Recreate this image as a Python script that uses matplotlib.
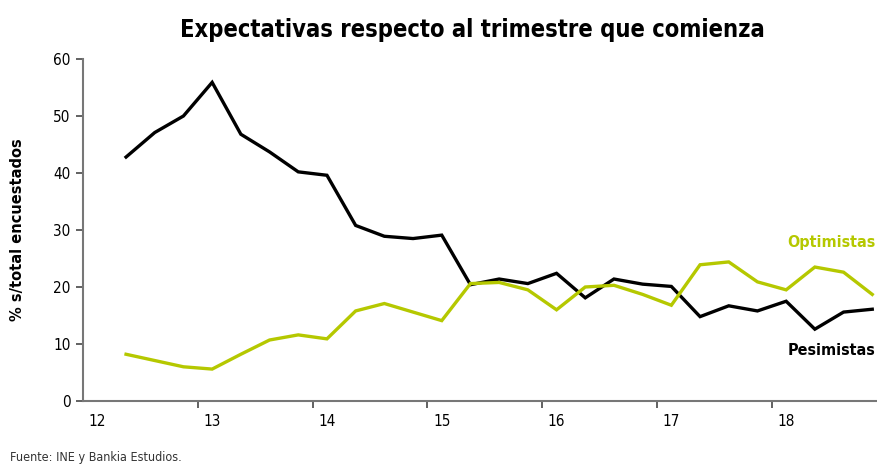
import matplotlib
matplotlib.use("Agg")
import matplotlib.pyplot as plt

# quarterly series, 2012 Q2 .. 2018 Q4 (category index 1..27)
pesimistas = [42.8, 47.1, 50.0, 55.9, 46.8, 43.7, 40.2, 39.6, 30.8, 28.9, 28.5, 29.1,
              20.4, 21.4, 20.6, 22.4, 18.1, 21.4, 20.5, 20.1, 14.8, 16.7, 15.8, 17.5,
              12.6, 15.6, 16.1]
optimistas = [8.2, 7.1, 6.0, 5.6, 8.2, 10.7, 11.6, 10.9, 15.8, 17.1, 15.6, 14.1,
              20.6, 20.8, 19.5, 16.0, 20.0, 20.3, 18.7, 16.8, 23.9, 24.4, 20.9, 19.5,
              23.5, 22.6, 18.7]
year_labels = ["12", "13", "14", "15", "16", "17", "18"]

plt.rcParams["font.family"] = ["DejaVu Sans"]
plt.rcParams["font.stretch"] = "condensed"

green = "#b5c800"
x = list(range(1, len(pesimistas) + 1))

fig = plt.figure(figsize=(8.77, 4.65), dpi=100)
ax = fig.add_axes([83/877, 64/465, 803.6/877, 342/465])

ax.plot(x, pesimistas, color="black", lw=2.4, solid_joinstyle="miter")
ax.plot(x, optimistas, color=green, lw=2.4, solid_joinstyle="miter")

ax.set_xlim(-0.5, 27.5)
ax.set_ylim(0, 60)
ax.set_yticks(range(0, 61, 10))
ax.set_xticks(range(0, 28, 4))
ax.set_xticklabels(year_labels)
ax.set_xticks([3.5 + 4 * i for i in range(7)], minor=True)
ax.tick_params(axis="x", which="major", length=0, pad=9, labelsize=11)
ax.tick_params(axis="x", which="minor", length=5, width=1.3, color="#555555")
ax.tick_params(axis="y", length=5, width=1.3, color="#555555", labelsize=11, pad=4)
for lab in ax.get_xticklabels() + ax.get_yticklabels():
    lab.set_fontstretch("condensed")

for s in ["top", "right"]:
    ax.spines[s].set_visible(False)
for s in ["left", "bottom"]:
    ax.spines[s].set_color("#777777")
    ax.spines[s].set_linewidth(1.5)

fig.text(472/877, 1 - 30/465, "Expectativas respecto al trimestre que comienza",
         ha="center", va="center", fontsize=17, fontweight="bold", fontstretch="condensed")
fig.text(18/877, 1 - 230/465, "% s/total encuestados", rotation=90,
         ha="center", va="center", fontsize=10.5, fontweight="bold",
         fontstretch="normal")
fig.text(875/877, 1 - 242/465, "Optimistas", ha="right", va="center",
         fontsize=11.5, fontweight="bold", color=green)
fig.text(875/877, 1 - 350/465, "Pesimistas", ha="right", va="center",
         fontsize=11.5, fontweight="bold", color="black")
fig.text(10/877, 1 - 457/465, "Fuente: INE y Bankia Estudios.", ha="left",
         va="center", fontsize=9, color="#333333")

fig.savefig("out.png", dpi=100)
